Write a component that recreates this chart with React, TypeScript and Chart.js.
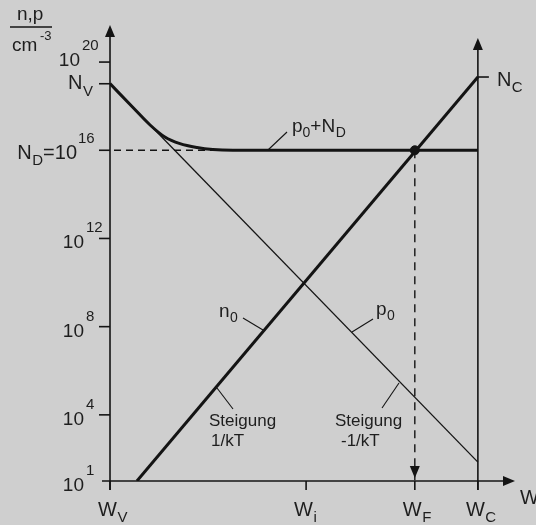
import React, { useEffect, useRef } from "react";
import { Chart, registerables } from "chart.js";

Chart.register(...registerables);

// Energies in eV, valence band edge at 0
const W_V = 0;
const W_I = 0.597;
const W_F = 0.928;
const W_C = 1.12;
const W_AXIS_END = 1.233;

// Carrier / state densities in cm^-3
const N_V = 1.04e19;
const N_C = 2.1e19;
const N_D = 1e16;
const N_AXIS_MIN = 10;
const N_AXIS_END = 4.8e21;

// Power-of-ten ticks on the density axis (10^16 is labelled as N_D)
const yTickExponents = [1, 4, 8, 12, 16, 20];
const yLabelExponents = [1, 4, 8, 12, 20];

// Energy ticks and their subscripts
const xTickValues = [W_V, W_I, W_F, W_C];
const xTickSubs = ["V", "i", "F", "C"];

// Electron density n0 (straight line on the log scale)
const n0X = [0.082, W_C];
const n0Y = [10, N_C];

// Hole density p0
const p0X = [W_V, W_C];
const p0Y = [N_V, 72];

// p0 + N_D
const p0NdX = [0, 0.07, 0.122, 0.167, 0.213, 0.265, 0.313, 0.374, W_C];
const p0NdY = [1.05e19, 8.7e17, 1.4e17, 4.0e16, 2.0e16, 1.33e16, 1.08e16, 1.0e16, 1.0e16];

const INK = "#141414";
const TEXT = "#1e1e1e";
const BG = "#cfcfcf";
const FONT = '"Liberation Sans", Arial, Helvetica, sans-serif';

const zip = (xs: number[], ys: number[]) => xs.map((x, i) => ({ x, y: ys[i] }));

function textWithIndex(
  ctx: CanvasRenderingContext2D,
  x: number,
  y: number,
  main: string,
  idx: string,
  mainSize: number,
  idxSize: number,
  shift: number
): number {
  ctx.font = `${mainSize}px ${FONT}`;
  ctx.fillText(main, x, y);
  const w = ctx.measureText(main).width;
  ctx.font = `${idxSize}px ${FONT}`;
  ctx.fillText(idx, x + w + 0.5, y + shift);
  return w + 0.5 + ctx.measureText(idx).width;
}

function arrowHead(
  ctx: CanvasRenderingContext2D,
  tipX: number,
  tipY: number,
  dir: "up" | "down" | "right",
  len = 12,
  half = 5
) {
  ctx.beginPath();
  ctx.moveTo(tipX, tipY);
  if (dir === "up") {
    ctx.lineTo(tipX - half, tipY + len);
    ctx.lineTo(tipX + half, tipY + len);
  } else if (dir === "down") {
    ctx.lineTo(tipX - half, tipY - len);
    ctx.lineTo(tipX + half, tipY - len);
  } else {
    ctx.lineTo(tipX - len, tipY - half);
    ctx.lineTo(tipX - len, tipY + half);
  }
  ctx.closePath();
  ctx.fill();
}

function line(ctx: CanvasRenderingContext2D, x1: number, y1: number, x2: number, y2: number) {
  ctx.beginPath();
  ctx.moveTo(x1, y1);
  ctx.lineTo(x2, y2);
  ctx.stroke();
}

const bandDiagramPlugin = {
  id: "bandDiagram",
  afterDatasetsDraw(chart: Chart) {
    const ctx = chart.ctx;
    const xs = chart.scales.x;
    const ys = chart.scales.y;
    const area = chart.chartArea;
    const x0 = xs.getPixelForValue(W_V);
    const xC = xs.getPixelForValue(W_C);
    const y0 = ys.getPixelForValue(N_AXIS_MIN);

    ctx.save();
    ctx.strokeStyle = INK;
    ctx.fillStyle = INK;
    ctx.lineWidth = 1.6;
    ctx.lineCap = "butt";

    // density axis with arrow
    line(ctx, x0, y0 + 9, x0, area.top + 10);
    arrowHead(ctx, x0, area.top, "up");
    // energy axis with arrow
    line(ctx, x0 - 8, y0, area.right - 10, y0);
    arrowHead(ctx, area.right, y0, "right");
    // conduction band edge line with arrow
    line(ctx, xC, y0 + 9, xC, area.top + 23);
    arrowHead(ctx, xC, area.top + 13, "up");

    // density ticks
    for (const e of yTickExponents) {
      const y = ys.getPixelForValue(Math.pow(10, e));
      if (e > 1) line(ctx, x0 - 11, y, x0, y);
    }
    const yNV = ys.getPixelForValue(N_V);
    line(ctx, x0 - 11, yNV, x0, yNV);
    const yNC = ys.getPixelForValue(N_C);
    line(ctx, xC, yNC, xC + 11, yNC);

    // energy ticks
    for (const w of xTickValues) {
      const x = xs.getPixelForValue(w);
      line(ctx, x, y0, x, y0 + 9);
    }

    // arrow at the foot of the Fermi level guide
    const xF = xs.getPixelForValue(W_F);
    arrowHead(ctx, xF, y0 - 3, "down");

    // text
    ctx.fillStyle = TEXT;
    ctx.textBaseline = "alphabetic";
    ctx.textAlign = "left";

    for (const e of yLabelExponents) {
      const y = ys.getPixelForValue(Math.pow(10, e));
      ctx.font = `19px ${FONT}`;
      const w = ctx.measureText("10").width;
      const right = e === 20 ? x0 - 30 : x0 - 26;
      const base = e === 20 ? y + 4 : y + 10;
      ctx.fillText("10", right - w, base);
      ctx.font = `15px ${FONT}`;
      ctx.fillText(String(e), right + 2, base - 16);
    }

    // N_V
    textWithIndex(ctx, x0 - 42, yNV + 5, "N", "V", 20, 15, 7);

    // N_D = 10^16
    {
      const y = ys.getPixelForValue(N_D);
      ctx.font = `20px ${FONT}`;
      const wN = ctx.measureText("N").width;
      const wEq = ctx.measureText("=10").width;
      ctx.font = `15px ${FONT}`;
      const wD = ctx.measureText("D").width;
      const right = x0 - 33;
      const start = right - (wN + 0.5 + wD + wEq);
      const base = y + 9;
      textWithIndex(ctx, start, base, "N", "D", 20, 15, 6);
      ctx.font = `20px ${FONT}`;
      ctx.fillText("=10", start + wN + 0.5 + wD, base);
      ctx.font = `15px ${FONT}`;
      ctx.fillText("16", right + 1, base - 16);
    }

    // N_C
    textWithIndex(ctx, xC + 19, yNC + 9, "N", "C", 20, 15, 6);

    // energy labels
    xTickValues.forEach((w, i) => {
      const x = xs.getPixelForValue(w);
      textWithIndex(ctx, x - 12, y0 + 35, "W", xTickSubs[i], 20, 15, 6);
    });
    ctx.font = `20px ${FONT}`;
    ctx.fillText("W", area.right + 5, y0 + 23);

    // axis title n,p / cm^-3
    ctx.font = `19px ${FONT}`;
    ctx.fillText("n,p", 17, 20);
    ctx.lineWidth = 1.4;
    line(ctx, 10, 27, 52, 27);
    ctx.fillText("cm", 12, 51);
    ctx.font = `13px ${FONT}`;
    ctx.fillText("-3", 40, 40);

    // curve labels with leaders
    ctx.lineWidth = 1.1;
    ctx.strokeStyle = INK;
    {
      let x = 292;
      const base = 132;
      ctx.font = `19px ${FONT}`;
      ctx.fillText("p", x, base);
      x += ctx.measureText("p").width;
      ctx.font = `14px ${FONT}`;
      ctx.fillText("0", x, base + 5);
      x += ctx.measureText("0").width;
      textWithIndex(ctx, x, base, "+N", "D", 19, 14, 5);
      line(ctx, 287, 132, 268, 150);
    }
    textWithIndex(ctx, 219, 317, "n", "0", 19, 14, 5);
    line(ctx, 243, 318, 263, 330);
    textWithIndex(ctx, 376, 315, "p", "0", 19, 14, 5);
    line(ctx, 373, 319, 352, 332);

    ctx.font = `17px ${FONT}`;
    ctx.fillText("Steigung", 209, 426);
    ctx.fillText("1/kT", 211, 446);
    line(ctx, 217, 388, 233, 409);
    ctx.fillText("Steigung", 335, 426);
    ctx.fillText("-1/kT", 341, 446);
    line(ctx, 399, 383, 382, 408);

    ctx.restore();
  },
};

export default function App() {
  const canvasRef = useRef<HTMLCanvasElement | null>(null);

  useEffect(() => {
    const canvas = canvasRef.current;
    if (!canvas) return;
    const chart = new Chart(canvas, {
      type: "line",
      data: {
        datasets: [
          {
            label: "Fermi point",
            data: [{ x: W_F, y: N_D }],
            showLine: false,
            pointRadius: 4.5,
            pointBackgroundColor: INK,
            pointBorderColor: INK,
            order: 0,
          },
          {
            label: "n0",
            data: zip(n0X, n0Y),
            borderColor: INK,
            borderWidth: 3,
            pointRadius: 0,
            order: 1,
          },
          {
            label: "p0+ND",
            data: zip(p0NdX, p0NdY),
            borderColor: INK,
            borderWidth: 3,
            pointRadius: 0,
            cubicInterpolationMode: "monotone",
            order: 2,
          },
          {
            label: "p0",
            data: zip(p0X, p0Y),
            borderColor: INK,
            borderWidth: 1.3,
            pointRadius: 0,
            order: 3,
          },
          {
            label: "ND guide",
            data: [
              { x: W_V, y: N_D },
              { x: W_F, y: N_D },
            ],
            borderColor: INK,
            borderWidth: 1.4,
            borderDash: [7, 5],
            borderDashOffset: -4,
            pointRadius: 0,
            order: 4,
          },
          {
            label: "WF guide",
            data: [
              { x: W_F, y: N_D },
              { x: W_F, y: N_AXIS_MIN },
            ],
            borderColor: INK,
            borderWidth: 1.4,
            borderDash: [8, 6],
            pointRadius: 0,
            order: 5,
          },
        ],
      },
      options: {
        animation: false,
        responsive: false,
        devicePixelRatio: 1,
        layout: { padding: { left: 110, right: 21, top: 25, bottom: 44 } },
        plugins: {
          legend: { display: false },
          tooltip: { enabled: false },
        },
        events: [],
        scales: {
          x: { type: "linear", min: W_V, max: W_AXIS_END, display: false },
          y: { type: "logarithmic", min: N_AXIS_MIN, max: N_AXIS_END, display: false },
        },
      },
      plugins: [bandDiagramPlugin],
    });
    return () => chart.destroy();
  }, []);

  return (
    <div
      style={{
        position: "fixed",
        left: 0,
        top: 0,
        width: 536,
        height: 525,
        background: BG,
        overflow: "hidden",
      }}
    >
      <canvas ref={canvasRef} width={536} height={525} style={{ display: "block" }} />
    </div>
  );
}
